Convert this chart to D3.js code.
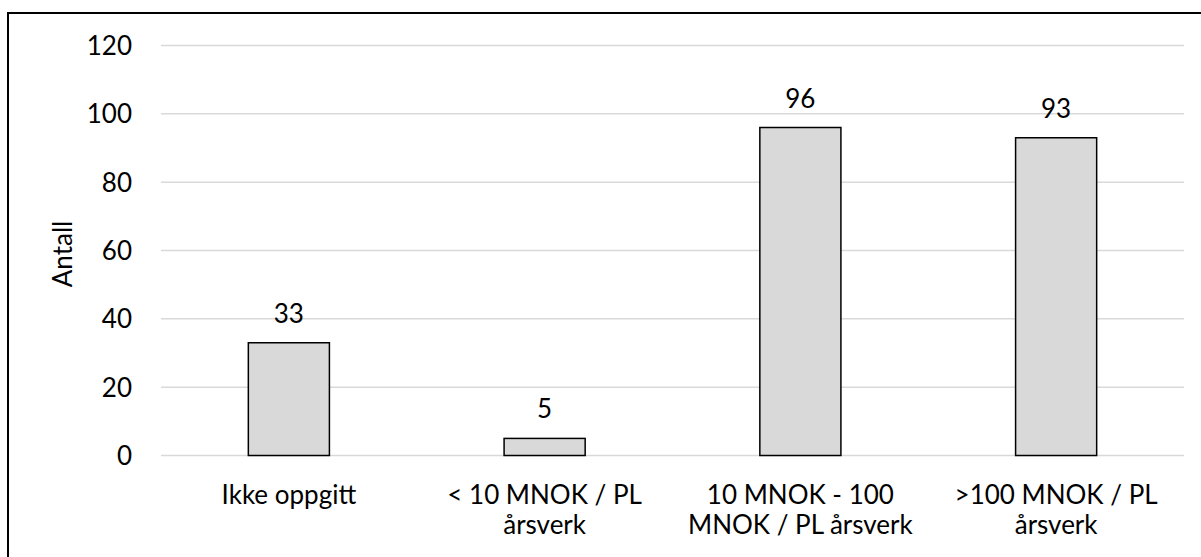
<!DOCTYPE html>
<html><head><meta charset="utf-8">
<script src="https://cdn.jsdelivr.net/npm/d3@7"></script>
<style>body{margin:0;background:#fff;} text{font-family:Lato, "Open Sans", sans-serif;}</style>
</head><body>
<svg id="c" width="1201" height="557"></svg>
<script>
const categories = [["Ikke oppgitt"], ["< 10 MNOK / PL", "årsverk"], ["10 MNOK - 100", "MNOK / PL årsverk"], [">100 MNOK / PL", "årsverk"]];
const values = [33, 5, 96, 93];
const yTicks = [0, 20, 40, 60, 80, 100, 120];
const yTitle = "Antall";

const svg = d3.select("#c");
svg.append("rect").attr("x",8).attr("y",13).attr("width",1200).attr("height",560)
  .attr("fill","#fff").attr("stroke","#000").attr("stroke-width",2);

const L = 161, R = 1184, T = 45.5, B = 455.5;
const x = d3.scaleBand().domain(d3.range(categories.length)).range([L, R]).padding(0);
const y = d3.scaleLinear().domain([0,120]).range([B, T]);

svg.append("g").selectAll("line").data(yTicks).join("line")
  .attr("x1",L).attr("x2",R).attr("y1",d=>y(d)).attr("y2",d=>y(d))
  .attr("stroke","#d9d9d9").attr("stroke-width",1.5);

svg.append("g").selectAll("text").data(yTicks).join("text")
  .attr("x",132).attr("y",d=>y(d)).attr("dy","0.36em").attr("text-anchor","end")
  .attr("font-size",26).attr("fill","#000").text(d=>d);

const bw = x.bandwidth()*0.317;
svg.append("g").selectAll("rect").data(values).join("rect")
  .attr("x",(d,i)=>x(i)+x.bandwidth()/2-bw/2).attr("width",bw)
  .attr("y",d=>y(d)).attr("height",d=>y(0)-y(d))
  .attr("fill","#d9d9d9").attr("stroke","#000").attr("stroke-width",1.5);

svg.append("g").selectAll("text").data(values).join("text")
  .attr("x",(d,i)=>x(i)+x.bandwidth()/2).attr("y",d=>y(d)-20)
  .attr("text-anchor","middle").attr("font-size",26).attr("fill","#000").text(d=>d);

const cg = svg.append("g").selectAll("text").data(categories).join("text")
  .attr("x",(d,i)=>x(i)+x.bandwidth()/2).attr("y",504)
  .attr("text-anchor","middle").attr("font-size",26).attr("fill","#000");
cg.selectAll("tspan").data(d=>d).join("tspan")
  .attr("x",function(){return this.parentNode.getAttribute("x");})
  .attr("dy",(d,i)=>i===0?0:30).text(d=>d);

svg.append("text").attr("transform","translate(72,254) rotate(-90)")
  .attr("text-anchor","middle").attr("font-size",26).attr("fill","#000").text(yTitle);
</script>
</body></html>
